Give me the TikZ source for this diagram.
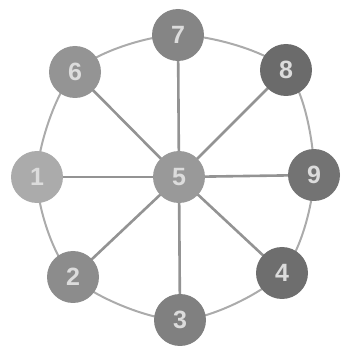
\documentclass[tikz,border=0pt]{standalone}
\usepackage{fontspec}
\setsansfont{Liberation Sans}
\usetikzlibrary{backgrounds}
\definecolor{cspoke}{HTML}{939393}
\definecolor{crim}{HTML}{ABABAB}
\definecolor{cnum}{HTML}{DCDCDC}
\tikzset{
  every picture/.style={font=\sffamily, line width=1.2pt},
  ball/.style={circle, fill=#1, minimum size=52pt, inner sep=0pt, text=cnum,
    font=\sffamily\bfseries\fontsize{25}{25}\selectfont},
  ball/.default=gray,
  spoke/.style={draw=cspoke, line width=2.6pt},
  rim/.style={draw=crim, line width=2pt},
}
\begin{document}
\begin{tikzpicture}[x=1pt, y=1pt]
  \useasboundingbox (0,0) rectangle (341,346);

  % ---- hub and ring
  \node[ball=black!40] (n5) at (179,169) {5};
  \node[ball=black!48] (n7) at (178,311) {7};
  \node[ball=black!42] (n6) at (75,274)  {6};
  \node[ball=black!58] (n8) at (286,276) {8};
  \node[ball=black!55] (n9) at (314,171) {9};
  \node[ball=black!57] (n4) at (282,73)  {4};
  \node[ball=black!50] (n3) at (180,26)  {3};
  \node[ball=black!45] (n2) at (73,69)   {2};
  \node[ball=black!33] (n1) at (37,169)  {1};

  \begin{scope}[on background layer]
    \draw[rim] plot[smooth cycle] coordinates {(n7.center) (n8.center) (n9.center)
      (n4.center) (n3.center) (n2.center) (n1.center) (n6.center)};
    \foreach \o in {n7,n8,n9,n4,n3,n2,n1,n6}
      \draw[spoke] (n5.center) -- (\o.center);
  \end{scope}
\end{tikzpicture}
\end{document}
